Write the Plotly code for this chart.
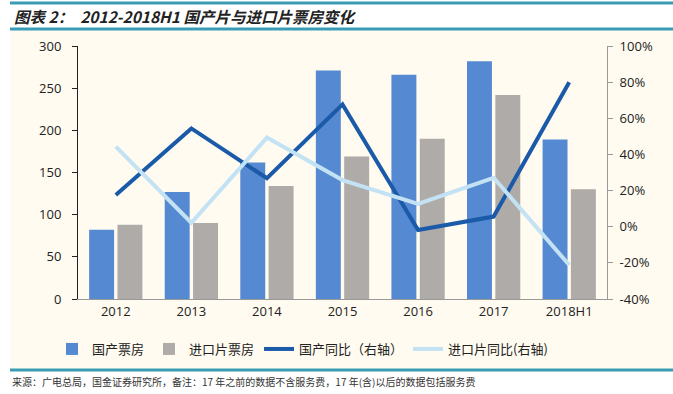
import plotly.graph_objects as go

categories = ["2012", "2013", "2014", "2015", "2016", "2017", "2018H1"]
domestic_box = [82, 127, 162, 271, 266, 282, 189]
import_box = [88, 90, 134, 169, 190, 242, 130]
domestic_yoy = [17.5, 54.4, 26.8, 67.7, -1.8, 5.6, 79.9]
import_yoy = [44.3, 2.2, 49.3, 25.8, 12.6, 27.1, -21.2]
left_ticks = [0, 50, 100, 150, 200, 250, 300]
right_ticks = [-40, -20, 0, 20, 40, 60, 80, 100]
right_tick_labels = ["-40%", "-20%", "0%", "20%", "40%", "60%", "80%", "100%"]

C_DOM = "#5589d2"
C_IMP = "#aeaba8"
C_DOM_L = "#1a5aa9"
C_IMP_L = "#c3e2f4"
TEAL = "#3a9bb4"
CREAM = "#fffbf0"

W, H = 673, 394
L, R, T, B = 78, 607, 46, 299


def cx(x):
    return x / W


def cy(y):
    return 1 - y / H


def px(x):
    return (x - L) / (R - L)


def py(y):
    return (B - y) / (B - T)


fig = go.Figure()
fig.add_trace(go.Bar(x=categories, y=domestic_box, name="国产票房", marker_color=C_DOM,
                     marker_line_width=0))
fig.add_trace(go.Bar(x=categories, y=import_box, name="进口片票房", marker_color=C_IMP,
                     marker_line_width=0))
fig.add_trace(go.Scatter(x=categories, y=domestic_yoy, name="国产同比（右轴）", yaxis="y2",
                         mode="lines", line=dict(color=C_DOM_L, width=4)))
fig.add_trace(go.Scatter(x=categories, y=import_yoy, name="进口片同比(右轴)", yaxis="y2",
                         mode="lines", line=dict(color=C_IMP_L, width=4)))

shapes = [
    dict(type="rect", xref="paper", yref="paper", x0=px(10), x1=px(673),
         y0=py(31), y1=py(369), fillcolor=CREAM, line_width=0, layer="below"),
]
for yy in (3, 29, 370):
    shapes.append(dict(type="line", xref="paper", yref="paper",
                       x0=px(10), x1=px(673), y0=py(yy), y1=py(yy),
                       line=dict(color=TEAL, width=3)))

annotations = [
    dict(text="<b><i>图表 2：  2012-2018H1 国产片与进口片票房变化</i></b>",
         xref="paper", yref="paper", x=px(12), y=py(16),
         xanchor="left", yanchor="middle", showarrow=False,
         font=dict(size=15.5, color="#222", family="Noto Sans CJK SC")),
    dict(text="来源：广电总局，国金证券研究所，备注：17 年之前的数据不含服务费，17 年(含)以后的数据包括服务费",
         xref="paper", yref="paper", x=px(10), y=py(381),
         xanchor="left", yanchor="middle",
         showarrow=False, font=dict(size=10, color="#333", family="Noto Sans CJK SC")),
]

fig.update_layout(
    width=W, height=H,
    margin=dict(l=L, r=W - R, t=T, b=H - B, pad=0, autoexpand=False),
    paper_bgcolor="white", plot_bgcolor=CREAM,
    barmode="group", bargap=0.25, bargroupgap=0.12,
    font=dict(family="Open Sans, Noto Sans CJK SC", size=13, color="#222"),
    xaxis=dict(showline=True, linecolor="#999", linewidth=1, ticks="", showgrid=False,
               tickfont=dict(size=13), automargin=False),
    yaxis=dict(range=[0, 300], tickvals=left_ticks, showline=True, linecolor="#222", linewidth=1,
               ticks="outside", ticklen=5, tickcolor="#222", showgrid=False, zeroline=False,
               tickfont=dict(size=13), ticklabelstandoff=8, automargin=False),
    yaxis2=dict(range=[-40, 100], tickvals=right_ticks, ticktext=right_tick_labels,
                overlaying="y", side="right", showline=True, linecolor="#999", linewidth=1,
                ticks="outside", ticklen=5, tickcolor="#999", showgrid=False, zeroline=False,
                tickfont=dict(size=13), ticklabelstandoff=4, automargin=False),
    legend=dict(orientation="h", xref="container", yref="container", x=cx(52), y=cy(349),
                xanchor="left", yanchor="middle",
                bgcolor="rgba(0,0,0,0)", font=dict(size=13, family="Noto Sans CJK SC"),
                itemwidth=30, tracegroupgap=0),
    shapes=shapes, annotations=annotations, showlegend=True,
)

fig.write_html("out.html", config={"displayModeBar": False})

# remove default browser body margin so the figure sits at the page origin
with open("out.html", "r", encoding="utf-8") as f:
    html = f.read()
html = html.replace("<body>", '<body style="margin:0;padding:0;">', 1)
html = html.replace("<head>", "<head><style>html,body{margin:0;padding:0;overflow:hidden;}</style>", 1)
with open("out.html", "w", encoding="utf-8") as f:
    f.write(html)
